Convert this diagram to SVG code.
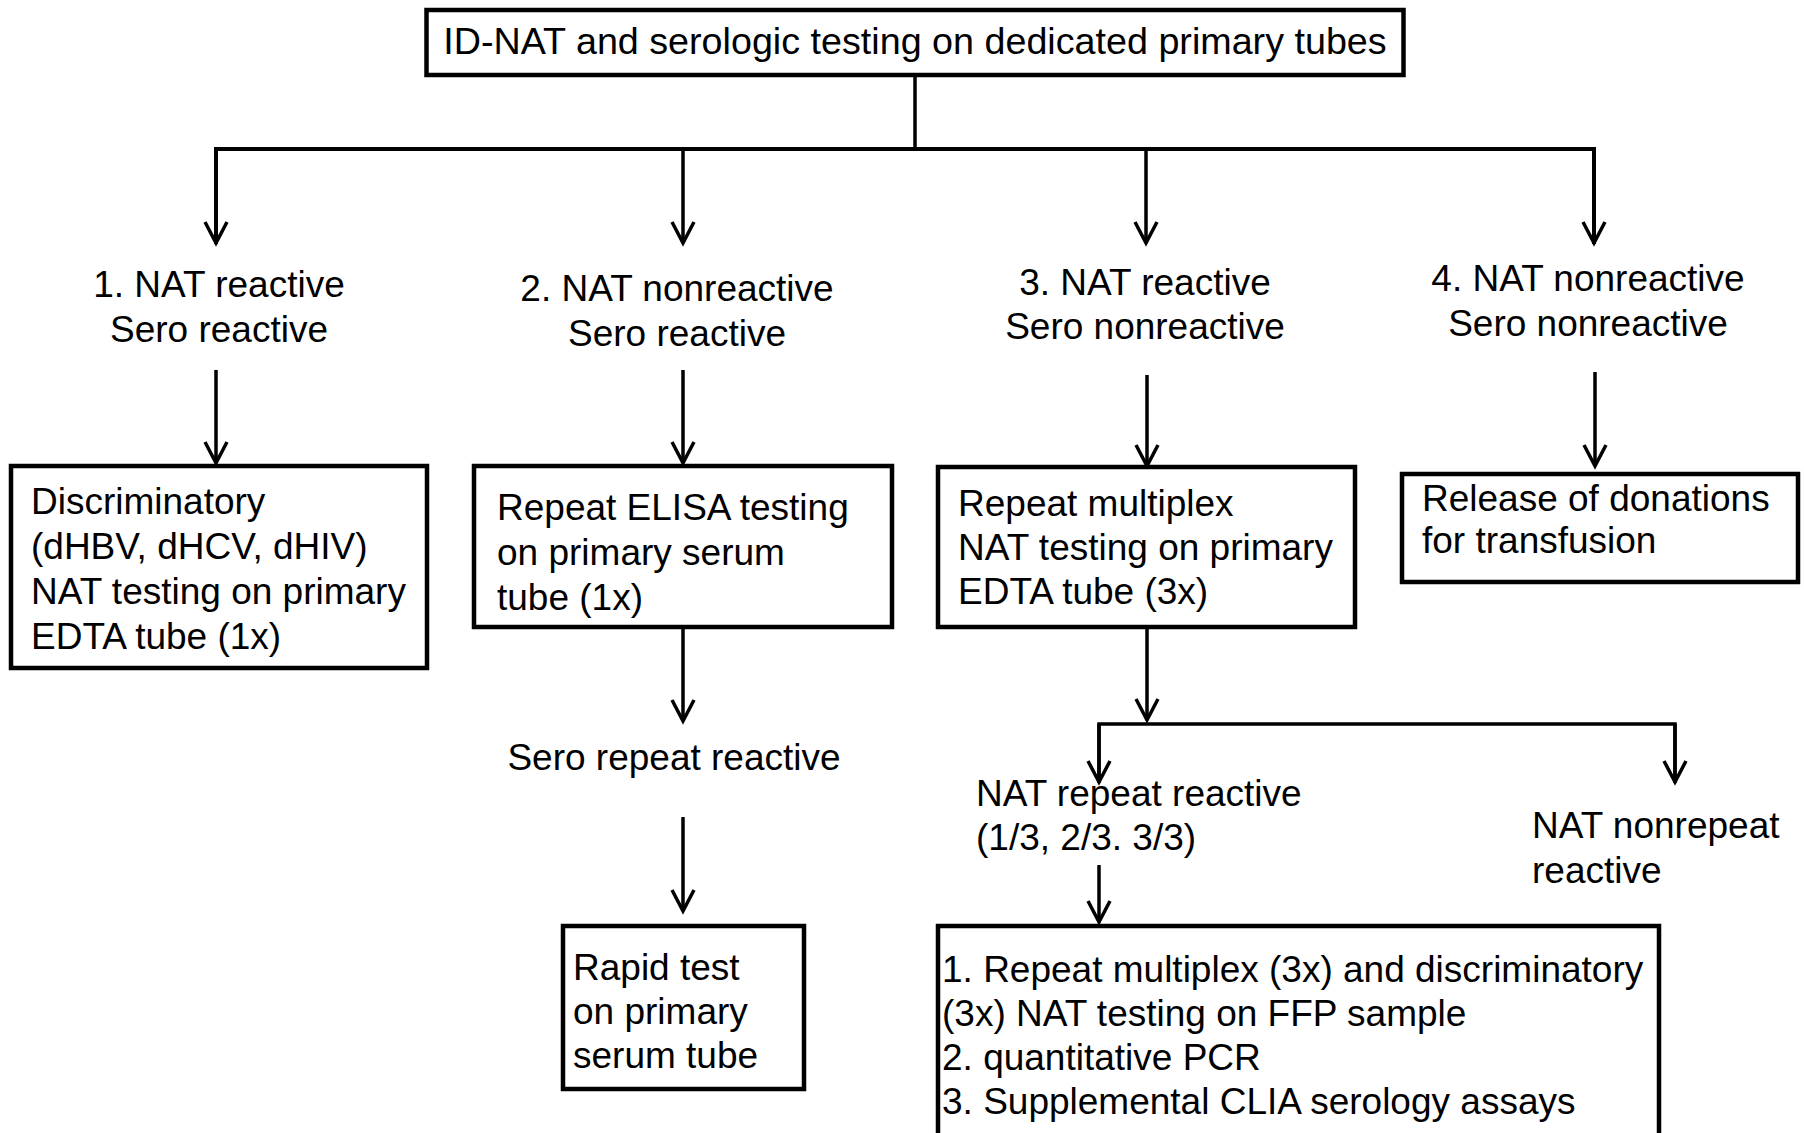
<svg xmlns="http://www.w3.org/2000/svg" width="1804" height="1133" viewBox="0 0 1804 1133">
<style>
text{font-family:"Liberation Sans",Arial,sans-serif;font-size:37px;fill:#000}
.c{text-anchor:middle}
.box{fill:#fff;stroke:#000;stroke-width:4.5}
.ln{fill:none;stroke:#000;stroke-width:3.5}
.bar{fill:none;stroke:#000;stroke-width:4}
</style>
<defs>
<marker id="ah" markerUnits="userSpaceOnUse" orient="auto" refX="0" refY="0" markerWidth="30" markerHeight="30" overflow="visible">
<path d="M-21,-11 L0,0 L-21,11" fill="none" stroke="#000" stroke-width="3.5"/>
</marker>
</defs>
<rect width="1804" height="1133" fill="#fff"/>

<g id="connectors">
<line class="ln" x1="915" y1="76" x2="915" y2="149"/>
<polyline class="bar" points="216,244 216,149 1594,149 1594,244"/>
<line class="ln" x1="216" y1="149" x2="216" y2="243" marker-end="url(#ah)"/>
<line class="ln" x1="683" y1="149" x2="683" y2="243" marker-end="url(#ah)"/>
<line class="ln" x1="1146" y1="149" x2="1146" y2="243" marker-end="url(#ah)"/>
<line class="ln" x1="1594" y1="149" x2="1594" y2="243" marker-end="url(#ah)"/>
<line class="ln" x1="216" y1="370" x2="216" y2="463" marker-end="url(#ah)"/>
<line class="ln" x1="683" y1="370" x2="683" y2="463" marker-end="url(#ah)"/>
<line class="ln" x1="1147" y1="375" x2="1147" y2="466" marker-end="url(#ah)"/>
<line class="ln" x1="1595" y1="372" x2="1595" y2="466" marker-end="url(#ah)"/>
<line class="ln" x1="683" y1="627" x2="683" y2="721" marker-end="url(#ah)"/>
<line class="ln" x1="683" y1="817" x2="683" y2="911" marker-end="url(#ah)"/>
<line class="ln" x1="1147" y1="627" x2="1147" y2="720" marker-end="url(#ah)"/>
<polyline class="ln" points="1099,783 1099,724 1675,724 1675,783"/>
<line class="ln" x1="1099" y1="724" x2="1099" y2="782" marker-end="url(#ah)"/>
<line class="ln" x1="1675" y1="724" x2="1675" y2="782" marker-end="url(#ah)"/>
<line class="ln" x1="1099" y1="865" x2="1099" y2="922" marker-end="url(#ah)"/>
</g>

<g id="top">
<rect class="box" x="426.5" y="10" width="977" height="65"/>
<text class="c" x="915" y="54" style="font-size:37.7px">ID-NAT and serologic testing on dedicated primary tubes</text>
</g>

<g id="label1">
<text class="c" x="219" y="297">1. NAT reactive</text>
<text class="c" x="219" y="342">Sero reactive</text>
</g>
<g id="label2">
<text class="c" x="677" y="301">2. NAT nonreactive</text>
<text class="c" x="677" y="346">Sero reactive</text>
</g>
<g id="label3">
<text class="c" x="1145" y="295">3. NAT reactive</text>
<text class="c" x="1145" y="339">Sero nonreactive</text>
</g>
<g id="label4">
<text class="c" x="1588" y="291">4. NAT nonreactive</text>
<text class="c" x="1588" y="336">Sero nonreactive</text>
</g>

<g id="box1">
<rect class="box" x="11" y="466" width="416" height="202"/>
<text x="31" y="514">Discriminatory</text>
<text x="31" y="559">(dHBV, dHCV, dHIV)</text>
<text x="31" y="604">NAT testing on primary</text>
<text x="31" y="649">EDTA tube (1x)</text>
</g>

<g id="box2">
<rect class="box" x="474" y="466" width="418" height="161"/>
<text x="497" y="520">Repeat ELISA testing</text>
<text x="497" y="565">on primary serum</text>
<text x="497" y="610">tube (1x)</text>
</g>

<g id="box3">
<rect class="box" x="938" y="467" width="417" height="160"/>
<text x="958" y="516">Repeat multiplex</text>
<text x="958" y="560">NAT testing on primary</text>
<text x="958" y="604">EDTA tube (3x)</text>
</g>

<g id="box4">
<rect class="box" x="1402" y="474" width="396" height="108"/>
<text x="1422" y="511">Release of donations</text>
<text x="1422" y="553">for transfusion</text>
</g>

<g id="seroRepeat">
<text class="c" x="674" y="770">Sero repeat reactive</text>
</g>

<g id="rapid">
<rect class="box" x="563" y="926" width="241" height="163"/>
<text x="573" y="980">Rapid test</text>
<text x="573" y="1024">on primary</text>
<text x="573" y="1068">serum tube</text>
</g>

<g id="natRepeat">
<text x="976" y="806">NAT repeat reactive</text>
<text x="976" y="850">(1/3, 2/3. 3/3)</text>
</g>

<g id="natNonrepeat">
<text x="1532" y="838">NAT nonrepeat</text>
<text x="1532" y="883">reactive</text>
</g>

<g id="finalBox">
<rect class="box" x="938" y="926" width="721" height="230"/>
<text x="942" y="982">1. Repeat multiplex (3x) and discriminatory</text>
<text x="942" y="1026">(3x) NAT testing on FFP sample</text>
<text x="942" y="1070">2. quantitative PCR</text>
<text x="942" y="1114">3. Supplemental CLIA serology assays</text>
</g>
</svg>
